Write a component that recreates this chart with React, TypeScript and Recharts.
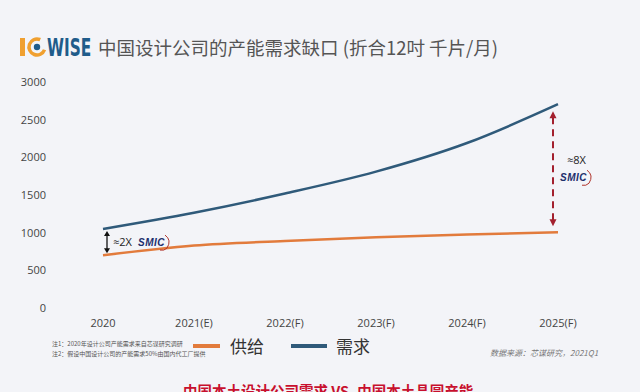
import React from 'react';
import { LineChart, Line, XAxis, YAxis, ReferenceLine } from 'recharts';

const categories = ['2020', '2021(E)', '2022(F)', '2023(F)', '2024(F)', '2025(F)'];
const supply = [700, 830, 890, 940, 975, 1005];
const demand = [1050, 1265, 1520, 1810, 2190, 2705];
const yTicks = [0, 500, 1000, 1500, 2000, 2500, 3000];
const seriesNames = ['供给', '需求'];

const data = categories.map((c, i) => ({ year: c, supply: supply[i], demand: demand[i] }));

const ORANGE = '#e27b3c';
const BLUE = '#2f5a7a';
const BG = '#f3f4f8';
const FONT = '"Open Sans", "Noto Sans CJK SC", sans-serif';

const SmicText = ({ x, y }: { x: number; y: number }) => (
  <g>
    <text x={x} y={y} fontFamily="Liberation Sans, Arial, sans-serif" fontWeight="bold" fontStyle="italic" fontSize={10} fill="#1d2f6b" letterSpacing={0.5}>SMIC</text>
    <path d={`M ${x + 27} ${y - 11} Q ${x + 34} ${y - 6} ${x + 29} ${y + 2} Q ${x + 26} ${y + 5} ${x + 22} ${y + 4}`} stroke="#b0342c" strokeWidth={1} fill="none" />
  </g>
);

const SmallArrow = (props: any) => {
  const { x1, y1, y2 } = props;
  const x = x1 + 4;
  const top = Math.min(y1, y2) + 2;
  const bot = Math.max(y1, y2) - 2;
  return (
    <g>
      <line x1={x} y1={top + 4} x2={x} y2={bot - 4} stroke="#111" strokeWidth={1.3} />
      <polygon points={`${x},${top} ${x - 3},${top + 5} ${x + 3},${top + 5}`} fill="#111" />
      <polygon points={`${x},${bot} ${x - 3},${bot - 5} ${x + 3},${bot - 5}`} fill="#111" />
      <text x={x + 6} y={(top + bot) / 2 + 4} fontFamily={FONT} fontSize={11} fill="#222">≈2X</text>
      <SmicText x={x + 31} y={(top + bot) / 2 + 4} />
    </g>
  );
};

const BigArrow = (props: any) => {
  const { x1, y1, y2 } = props;
  const x = x1 - 5;
  const top = Math.min(y1, y2) + 7;
  const bot = Math.max(y1, y2) - 6;
  const red = '#a3202e';
  return (
    <g>
      <line x1={x} y1={top + 6} x2={x} y2={bot - 6} stroke={red} strokeWidth={2} strokeDasharray="7 5" />
      <polygon points={`${x},${top} ${x - 3.5},${top + 7} ${x + 3.5},${top + 7}`} fill={red} />
      <polygon points={`${x},${bot} ${x - 3.5},${bot - 7} ${x + 3.5},${bot - 7}`} fill={red} />
      <text x={x + 14} y={top + 53} fontFamily={FONT} fontSize={11} fill="#222">≈8X</text>
      <SmicText x={x + 7} y={top + 70} />
    </g>
  );
};

export default function App() {
  return (
    <div style={{ position: 'absolute', left: 0, top: 0, width: 640, height: 392, background: BG, overflow: 'hidden', fontFamily: FONT }}>
      <svg style={{ position: 'absolute', left: 18, top: 32, overflow: 'visible' }} width={76} height={28}>
        <rect x={2} y={6} width={5} height={18} fill="#f0a030" />
        <circle cx={19} cy={15} r={8} fill="none" stroke="#f0a030" strokeWidth={3.5} strokeDasharray="38 12" transform="rotate(20 19 15)" />
        <circle cx={19} cy={15} r={3.2} fill="#1f5c8a" />
        <text transform="translate(29,24) scale(0.64,1)" x={0} y={0} fontFamily='"DejaVu Sans", sans-serif' fontWeight="bold" fontSize={24} fill="#1f5c8a">WISE</text>
      </svg>
      <div style={{ position: 'absolute', left: 98, top: 34, fontFamily: '"Noto Sans CJK SC", sans-serif', fontSize: 18.5, color: '#555', whiteSpace: 'nowrap', letterSpacing: 0 }}>
        中国设计公司的产能需求缺口 (折合12吋 千片/月)
      </div>
      <div style={{ position: 'absolute', left: 0, top: 0 }}>
        <LineChart width={640} height={392} data={data} margin={{ top: 82, right: 82, bottom: 54, left: 43 }}>
          <XAxis dataKey="year" axisLine={false} tickLine={false} tickSize={0} tickMargin={11} height={30} interval={0}
            tick={{ fontSize: 11, fill: '#444', fontFamily: FONT }} />
          <YAxis domain={[0, 3000]} ticks={yTicks} axisLine={false} tickLine={false} tickSize={0} tickMargin={57} width={60}
            tick={{ fontSize: 11, fill: '#444', fontFamily: FONT }} />
          <Line type="monotone" dataKey="supply" name={seriesNames[0]} stroke={ORANGE} strokeWidth={2.5} dot={false} isAnimationActive={false} />
          <Line type="monotone" dataKey="demand" name={seriesNames[1]} stroke={BLUE} strokeWidth={2.5} dot={false} isAnimationActive={false} />
          <ReferenceLine segment={[{ x: categories[0], y: supply[0] }, { x: categories[0], y: demand[0] }]} shape={<SmallArrow />} ifOverflow="visible" />
          <ReferenceLine segment={[{ x: categories[5], y: supply[5] }, { x: categories[5], y: demand[5] }]} shape={<BigArrow />} ifOverflow="visible" />
        </LineChart>
      </div>
      <div style={{ position: 'absolute', left: 193, top: 333, display: 'flex', alignItems: 'center', fontFamily: '"Noto Sans CJK SC", sans-serif', fontSize: 17, color: '#333' }}>
        <span style={{ display: 'inline-block', width: 27, height: 4, background: ORANGE, marginRight: 10 }} />
        <span>{seriesNames[0]}</span>
        <span style={{ display: 'inline-block', width: 36, height: 4, background: BLUE, marginLeft: 27, marginRight: 9 }} />
        <span>{seriesNames[1]}</span>
      </div>
      <div style={{ position: 'absolute', left: 52, top: 339, fontFamily: '"Noto Sans CJK SC", sans-serif', fontSize: 6, color: '#555', lineHeight: '10px', whiteSpace: 'nowrap' }}>
        <div>注1：2020年设计公司产能需求来自芯谋研究调研</div>
        <div>注2：假设中国设计公司的产能需求50%由国内代工厂提供</div>
      </div>
      <div style={{ position: 'absolute', left: 490, top: 347, fontFamily: '"Noto Sans CJK SC", sans-serif', fontSize: 8, color: '#777', fontStyle: 'italic', whiteSpace: 'nowrap' }}>
        数据来源：芯谋研究，2021Q1
      </div>
      <div style={{ position: 'absolute', left: 183, top: 381, fontFamily: '"Noto Sans CJK SC", sans-serif', fontSize: 14.5, fontWeight: 'bold', color: '#c8102e', whiteSpace: 'nowrap', lineHeight: '20px' }}>
        中国本土设计公司需求 VS. 中国本土晶圆产能
      </div>
    </div>
  );
}
